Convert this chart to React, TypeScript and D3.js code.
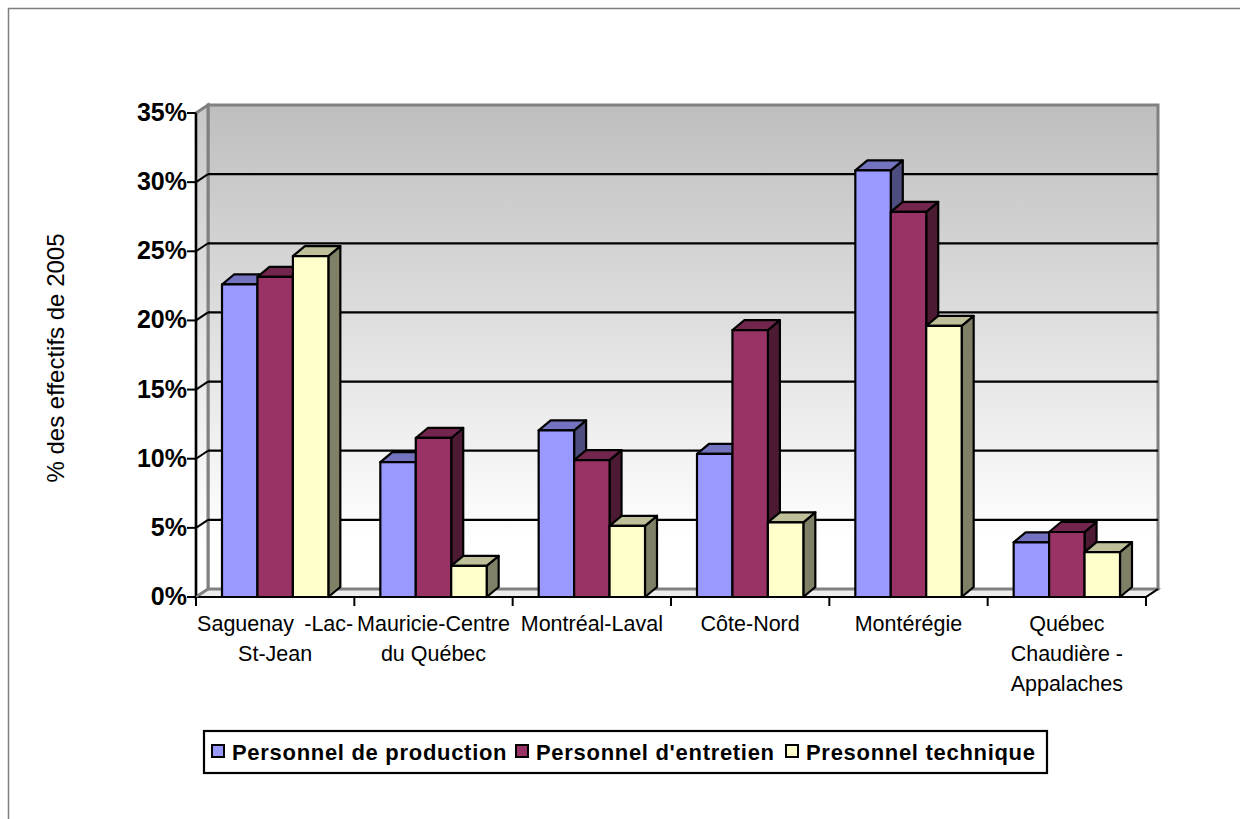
import React from "react";
import * as d3 from "d3";

const categories = [
  ["Saguenay\u2009 -Lac-", "St-Jean"],
  ["Mauricie-Centre", "du Québec"],
  ["Montréal-Laval"],
  ["Côte-Nord"],
  ["Montérégie"],
  ["Québec", "Chaudière -", "Appalaches"],
];
const categoryKeys = ["g1", "g2", "g3", "g4", "g5", "g6"];
const seriesNames = ["Personnel de production", "Personnel d'entretien", "Presonnel technique"];
const production = [22.6, 9.75, 12.05, 10.35, 30.85, 3.95];
const entretien = [23.15, 11.5, 9.9, 19.3, 27.85, 4.7];
const technique = [24.65, 2.25, 5.15, 5.4, 19.6, 3.25];
const seriesValues = [production, entretien, technique];
const colors = ["#9999FF", "#993366", "#FFFFCC"];
const topColors = ["#7373BF", "#73264D", "#BFBF99"];
const sideColors = ["#4D4D80", "#4D1A33", "#808066"];
const yTicks = [0, 5, 10, 15, 20, 25, 30, 35];

const x0 = 196, x1 = 1146, yB = 597, yT = 113, dx = 12, dy = 8;
const barDx = 12, barDy = 10;
const font = "'Liberation Sans', Arial, sans-serif";

export default function App() {
  const y = d3.scaleLinear().domain([0, 35]).range([yB, yT]);
  const xBand = d3.scaleBand<string>().domain(categoryKeys).range([x0, x1]);
  const inner = d3
    .scaleBand<number>()
    .domain([0, 1, 2])
    .range([26, xBand.bandwidth() - 26]);
  const poly = (p: number[][]) => p.map((q) => q.join(",")).join(" ");
  const backTop = y(35) - dy;
  const backBot = y(0) - dy;
  return (
    <svg
      width={1242}
      height={819}
      style={{ position: "absolute", left: 0, top: 0, background: "#fff" }}
      fontFamily={font}
    >
      <defs>
        <linearGradient id="wall" x1="0" x2="0" y1="0" y2="1">
          <stop offset="0" stopColor="#BEBEBE" />
          <stop offset="0.9" stopColor="#FFFFFF" />
          <stop offset="1" stopColor="#FFFFFF" />
        </linearGradient>
        <linearGradient id="sidewall" x1="0" x2="0" y1="0" y2="1">
          <stop offset="0" stopColor="#C8C8C8" />
          <stop offset="0.9" stopColor="#FFFFFF" />
          <stop offset="1" stopColor="#FFFFFF" />
        </linearGradient>
      </defs>
      <path d="M8.5,819 V8.5 H1240" fill="none" stroke="#7f7f7f" strokeWidth={1.5} />

      {/* walls */}
      <polygon
        points={poly([[x0, yB], [x0 + dx, backBot], [x1 + dx, backBot], [x1, yB]])}
        fill="#EDEDED"
        stroke="#808080"
        strokeWidth={2}
      />
      <rect x={x0 + dx} y={backTop} width={x1 - x0} height={backBot - backTop} fill="url(#wall)" stroke="#808080" strokeWidth={3} />
      <polygon
        points={poly([[x0, yT], [x0 + dx, backTop], [x0 + dx, backBot], [x0, yB]])}
        fill="url(#sidewall)"
        stroke="#808080"
        strokeWidth={3}
      />

      {/* gridlines */}
      {yTicks.map((t) => (
        <g key={t}>
          {t > 0 && t < 35 && (
            <line x1={x0 + dx} x2={x1 + dx} y1={y(t) - dy} y2={y(t) - dy} stroke="#000" strokeWidth={2.2} />
          )}
          {t > 0 && t < 35 && <line x1={x0} x2={x0 + dx} y1={y(t)} y2={y(t) - dy} stroke="#000" strokeWidth={2} />}
        </g>
      ))}
      <line x1={x1} x2={x1 + dx} y1={yB} y2={yB - dy} stroke="#000" strokeWidth={2} />

      {/* bars */}
      {categoryKeys.map((k, i) => (
        <g key={k}>
          {seriesValues.map((vals, s) => {
            const bx = (xBand(k) as number) + (inner(s) as number);
            const w = inner.bandwidth();
            const t = y(vals[i]);
            return (
              <g key={s} stroke="#000" strokeWidth={2.2} strokeLinejoin="round">
                <polygon
                  points={poly([[bx + w, t], [bx + w + barDx, t - barDy], [bx + w + barDx, yB - barDy], [bx + w, yB]])}
                  fill={sideColors[s]}
                />
                <polygon
                  points={poly([[bx, t], [bx + barDx, t - barDy], [bx + w + barDx, t - barDy], [bx + w, t]])}
                  fill={topColors[s]}
                />
                <rect x={bx} y={t} width={w} height={yB - t} fill={colors[s]} />
              </g>
            );
          })}
        </g>
      ))}

      {/* axes */}
      <line x1={x0} x2={x0} y1={yT} y2={yB} stroke="#000" strokeWidth={2.2} />
      <line x1={x0} x2={x1} y1={yB} y2={yB} stroke="#000" strokeWidth={2.2} />
      <line x1={x0} x2={x0 + dx} y1={yB} y2={yB - dy} stroke="#808080" strokeWidth={2} />
      {yTicks.map((t) => (
        <g key={t}>
          <line x1={x0 - 9} x2={x0} y1={y(t)} y2={y(t)} stroke="#000" strokeWidth={2} />
          <text x={x0 - 9} y={y(t) + 8} textAnchor="end" fontSize={25} fontWeight="bold" fill="#000">
            {t}%
          </text>
        </g>
      ))}
      {[...categoryKeys, "end"].map((k, i) => {
        const xx = k === "end" ? x1 : (xBand(k) as number);
        return <line key={i} x1={xx} x2={xx} y1={yB} y2={yB + 9} stroke="#000" strokeWidth={2} />;
      })}
      {categories.map((lines, i) => (
        <text key={i} textAnchor="middle" fontSize={21.5} fill="#000">
          {lines.map((l, j) => (
            <tspan key={j} x={(xBand(categoryKeys[i]) as number) + xBand.bandwidth() / 2} y={631 + j * 30}>
              {l}
            </tspan>
          ))}
        </text>
      ))}
      <text transform="translate(64,358) rotate(-90)" textAnchor="middle" fontSize={24} fill="#000">
        % des effectifs de 2005
      </text>

      {/* legend */}
      <rect x={204} y={731} width={843} height={42} fill="#fff" stroke="#000" strokeWidth={2.2} />
      {seriesNames.map((n, s) => {
        const lx = [212, 516, 786][s];
        return (
          <g key={n}>
            <rect x={lx} y={745} width={12} height={12} fill={colors[s]} stroke="#000" strokeWidth={2} />
            <text x={lx + 20} y={760} fontSize={22} fontWeight="bold" letterSpacing={0.7} fill="#000">
              {n}
            </text>
          </g>
        );
      })}
    </svg>
  );
}
